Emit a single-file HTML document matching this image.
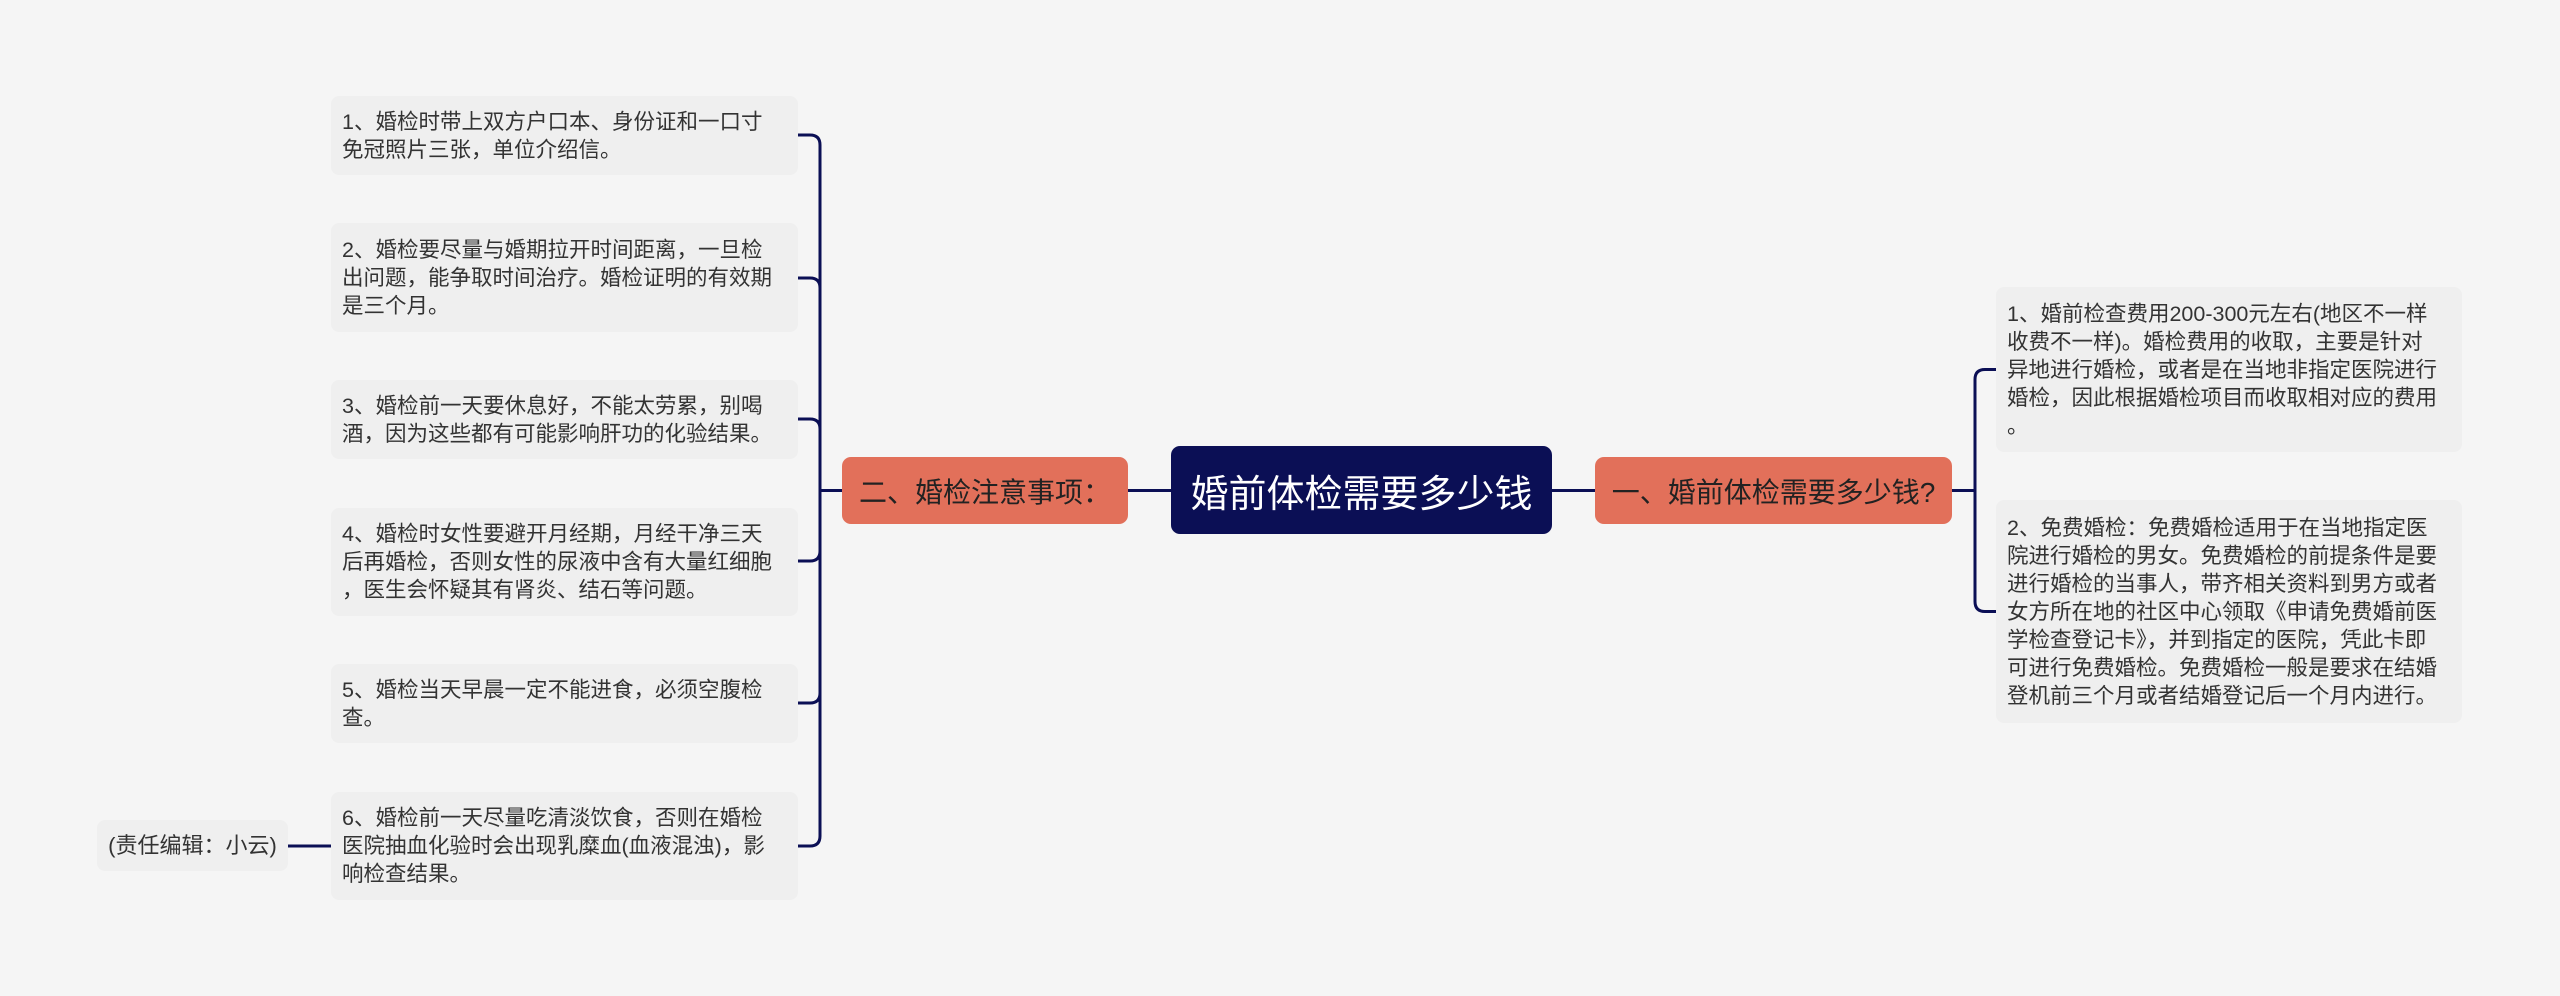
<!DOCTYPE html>
<html><head><meta charset="utf-8"><style>
html,body{margin:0;padding:0}
body{width:2560px;height:996px;background:#f5f5f5;position:relative;overflow:hidden;font-family:"Liberation Sans","Noto Sans CJK SC",sans-serif;}
.n{position:absolute;box-sizing:border-box;display:flex;align-items:center;border-radius:8px;white-space:nowrap}
.leaf{background:#efefef;color:#333;font-size:21.5px;line-height:28px;padding:0 11px;}
.br{background:#e2705a;color:#222;font-size:28px;justify-content:center;border-radius:9px}
.c{background:#0b0f55;color:#fff;font-size:38px;justify-content:center;border-radius:9px}
svg{position:absolute;left:0;top:0}
</style></head><body>
<svg width="2560" height="996" fill="none" stroke="#0b0f55" stroke-width="3">
<path d="M1128 490.5H1171M1552 490.5H1595"/>
<path d="M798 135H810Q820 135 820 145V836Q820 846 810 846H798"/>
<path d="M798 278H810Q820 278 820 288M798 419H810Q820 419 820 429M798 561H810Q820 561 820 551M798 703H810Q820 703 820 693"/>
<path d="M820 490.5H842"/>
<path d="M288 846H331"/>
<path d="M1996 369.5H1985Q1975 369.5 1975 379.5V601.5Q1975 611.5 1985 611.5H1996"/>
<path d="M1952 490.5H1975"/>
</svg>
<div class="n c" style="left:1171px;top:446px;width:381px;height:88px">婚前体检需要多少钱</div>
<div class="n br" style="left:1595px;top:457px;width:357px;height:67px">一、婚前体检需要多少钱?</div>
<div class="n br" style="left:842px;top:457px;width:286px;height:67px">二、婚检注意事项：</div>
<div class="n leaf" style="left:1996px;top:287px;width:466px;height:165px">1、婚前检查费用200-300元左右(地区不一样<br>收费不一样)。婚检费用的收取，主要是针对<br>异地进行婚检，或者是在当地非指定医院进行<br>婚检，因此根据婚检项目而收取相对应的费用<br>。</div>
<div class="n leaf" style="left:1996px;top:500px;width:466px;height:223px">2、免费婚检：免费婚检适用于在当地指定医<br>院进行婚检的男女。免费婚检的前提条件是要<br>进行婚检的当事人，带齐相关资料到男方或者<br>女方所在地的社区中心领取《申请免费婚前医<br>学检查登记卡》，并到指定的医院，凭此卡即<br>可进行免费婚检。免费婚检一般是要求在结婚<br>登机前三个月或者结婚登记后一个月内进行。</div>
<div class="n leaf" style="left:331px;top:96px;width:467px;height:79px">1、婚检时带上双方户口本、身份证和一口寸<br>免冠照片三张，单位介绍信。</div>
<div class="n leaf" style="left:331px;top:223px;width:467px;height:109px">2、婚检要尽量与婚期拉开时间距离，一旦检<br>出问题，能争取时间治疗。婚检证明的有效期<br>是三个月。</div>
<div class="n leaf" style="left:331px;top:380px;width:467px;height:79px">3、婚检前一天要休息好，不能太劳累，别喝<br>酒，因为这些都有可能影响肝功的化验结果。</div>
<div class="n leaf" style="left:331px;top:508px;width:467px;height:108px">4、婚检时女性要避开月经期，月经干净三天<br>后再婚检，否则女性的尿液中含有大量红细胞<br>，医生会怀疑其有肾炎、结石等问题。</div>
<div class="n leaf" style="left:331px;top:664px;width:467px;height:79px">5、婚检当天早晨一定不能进食，必须空腹检<br>查。</div>
<div class="n leaf" style="left:331px;top:792px;width:467px;height:108px">6、婚检前一天尽量吃清淡饮食，否则在婚检<br>医院抽血化验时会出现乳糜血(血液混浊)，影<br>响检查结果。</div>
<div class="n leaf" style="left:97px;top:820px;width:191px;height:51px;justify-content:center;padding:0;font-size:22px">(责任编辑：小云)</div>
</body></html>
